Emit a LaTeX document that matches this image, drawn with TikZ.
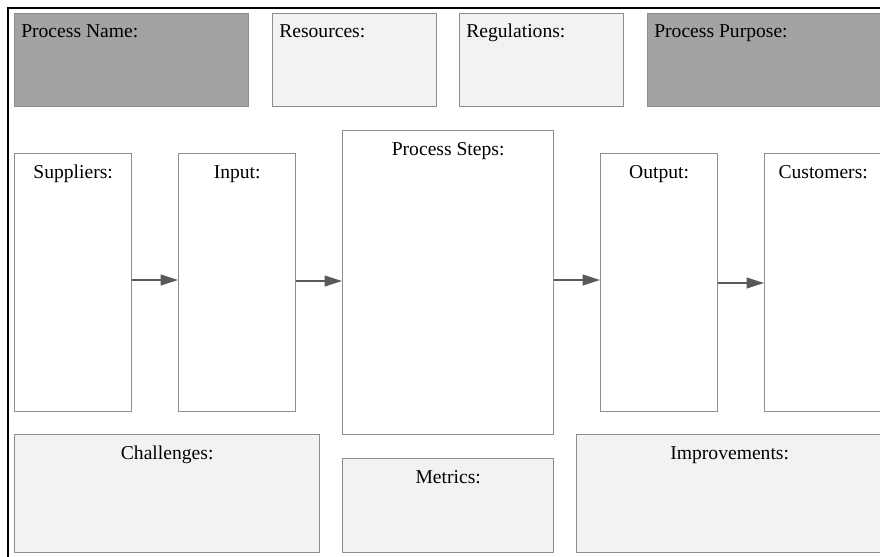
\documentclass[tikz,border=0pt]{standalone}
\usepackage{fontspec}
\setmainfont{Liberation Serif}
\usetikzlibrary{arrows.meta}
\definecolor{headfill}{HTML}{A3A3A3}
\definecolor{softfill}{HTML}{F2F2F2}
\definecolor{edgegray}{HTML}{8E8E8E}
\definecolor{arrowgray}{HTML}{595959}
\tikzset{
  box/.style={draw=edgegray, line width=1pt, anchor=north west, inner sep=0pt},
  headbox/.style={box, fill=headfill},
  softbox/.style={box, fill=softfill},
  plainbox/.style={box, fill=white},
  leftlbl/.style={anchor=base west, inner sep=0pt, xshift=5.25pt, yshift=-18.5pt},
  midlbl/.style={anchor=base, inner sep=0pt, yshift=-18.75pt},
  flow/.style={draw=arrowgray, line width=1.4pt, -{Triangle[length=13pt,width=8pt]}}
}
\begin{document}
\begin{tikzpicture}[x=0.75pt, y=-0.75pt, font=\rmfamily\fontsize{14.7}{17}\selectfont]
  \useasboundingbox (0,0) rectangle (880,556);
  \clip (0,0) rectangle (880,556);
  \draw[line width=1.5pt] (7.5,8.5) rectangle (886,562);
  % top row
  \node[headbox, minimum width=175.5pt, minimum height=69.75pt,
        label={[leftlbl]north west:{Process Name:}}] (name) at (14,13) {};
  \node[softbox, minimum width=123pt, minimum height=69.75pt,
        label={[leftlbl]north west:{Resources:}}] (res) at (272,13) {};
  \node[softbox, minimum width=123pt, minimum height=69.75pt,
        label={[leftlbl]north west:{Regulations:}}] (reg) at (459,13) {};
  \node[headbox, minimum width=176.25pt, minimum height=69.75pt,
        label={[leftlbl]north west:{Process Purpose:}}] (purpose) at (647,13) {};
  % middle row
  \node[plainbox, minimum width=87.75pt, minimum height=193.5pt,
        label={[midlbl]north:{Suppliers:}}] (sup) at (14,153) {};
  \node[plainbox, minimum width=87.75pt, minimum height=193.5pt,
        label={[midlbl]north:{Input:}}] (inp) at (178,153) {};
  \node[plainbox, minimum width=158.25pt, minimum height=228pt,
        label={[midlbl]north:{Process Steps:}}] (steps) at (342,130) {};
  \node[plainbox, minimum width=87.75pt, minimum height=193.5pt,
        label={[midlbl]north:{Output:}}] (out) at (600,153) {};
  \node[plainbox, minimum width=87.75pt, minimum height=193.5pt,
        label={[midlbl]north:{Customers:}}] (cust) at (764,153) {};
  % bottom row
  \node[softbox, minimum width=228.75pt, minimum height=88.5pt,
        label={[midlbl]north:{Challenges:}}] (chal) at (14,434) {};
  \node[softbox, minimum width=158.25pt, minimum height=70.5pt,
        label={[midlbl]north:{Metrics:}}] (met) at (342,458) {};
  \node[softbox, minimum width=229.5pt, minimum height=88.5pt,
        label={[midlbl]north:{Improvements:}}] (impr) at (576,434) {};
  % flow
  \draw[flow] (sup.east |- 0,280) -- (inp.west |- 0,280);
  \draw[flow] (inp.east |- 0,281) -- (steps.west |- 0,281);
  \draw[flow] (steps.east |- 0,280) -- (out.west |- 0,280);
  \draw[flow] (out.east |- 0,283) -- (cust.west |- 0,283);
\end{tikzpicture}
\end{document}
